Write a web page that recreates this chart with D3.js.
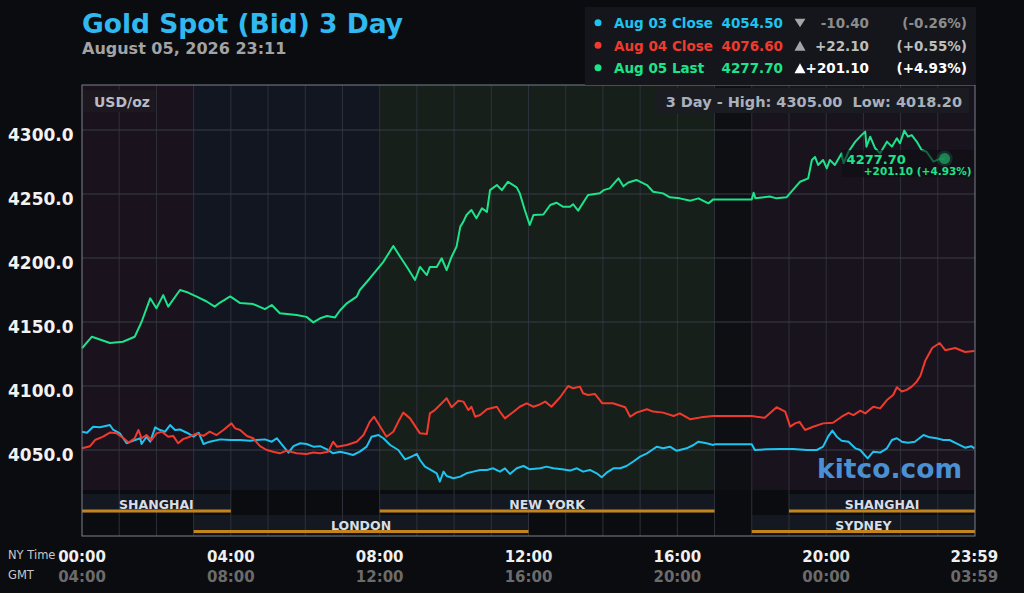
<!DOCTYPE html>
<html>
<head>
<meta charset="utf-8">
<script src="https://cdn.jsdelivr.net/npm/d3@7"></script>
<style>
html, body { margin: 0; padding: 0; background: #0b0c0f; }
svg { display: block; font-family: "DejaVu Sans", sans-serif; font-weight: bold; }
</style>
</head>
<body>
<svg id="chart" width="1024" height="593"></svg>
<script>
// Aug 03 (blue) – NY time / bid price
const aug03Times = ["00:00","00:08","00:18","00:29","00:45","00:50","01:01","01:12","01:23","01:34","01:36","01:44","01:50","01:58","02:06","02:14","02:22","02:30","02:38","02:49","03:00","03:08","03:16","03:26","03:43","03:59","04:15","04:31","04:42","04:55","05:06","05:14","05:25","05:33","05:41","05:52","06:02","06:13","06:24","06:35","06:45","06:56","07:07","07:17","07:28","07:39","07:47","07:58","08:06","08:17","08:30","08:41","08:49","09:00","09:05","09:13","09:21","09:32","09:37","09:43","09:48","09:59","10:10","10:20","10:31","10:42","10:53","11:03","11:14","11:22","11:30","11:41","11:52","12:02","12:19","12:29","12:40","12:54","13:07","13:18","13:28","13:39","13:50","13:58","14:06","14:17","14:28","14:38","14:49","15:00","15:11","15:19","15:27","15:37","15:48","15:59","16:15","16:26","16:34","16:47","16:58","17:00","18:00","18:05","18:24","18:45","19:07","19:29","19:45","19:55","20:03","20:10","20:17","20:25","20:36","20:47","20:55","21:02","21:07","21:16","21:27","21:38","21:46","21:54","22:02","22:12","22:23","22:37","22:47","22:58","23:09","23:19","23:30","23:44","23:54","23:59"];
const aug03Prices = [4064.3,4063.5,4068.2,4067.7,4069.5,4066.0,4063.0,4055.3,4057.3,4059.2,4054.7,4060.4,4056.5,4067.7,4065.6,4064.3,4069.5,4065.6,4066.0,4063.5,4060.4,4063.5,4054.7,4056.5,4058.3,4057.8,4057.8,4057.3,4057.8,4058.3,4056.5,4059.2,4052.6,4047.9,4053.0,4055.3,4054.7,4052.6,4053.0,4050.5,4047.4,4048.7,4047.4,4046.1,4048.7,4052.6,4060.4,4061.7,4059.2,4053.9,4050.0,4042.7,4044.3,4046.9,4042.2,4037.0,4034.9,4031.8,4025.3,4033.1,4029.7,4027.9,4029.2,4031.8,4033.1,4034.4,4034.4,4035.7,4033.1,4035.7,4031.3,4035.7,4037.5,4034.9,4035.7,4037.0,4035.7,4034.9,4033.9,4035.7,4033.1,4034.4,4031.8,4028.7,4032.3,4035.7,4035.7,4037.5,4041.0,4044.8,4047.4,4050.0,4052.6,4051.3,4052.6,4049.4,4051.3,4053.9,4056.5,4055.2,4053.9,4054.5,4054.5,4050.0,4050.5,4050.8,4050.8,4050.0,4050.0,4052.6,4060.4,4065.1,4060.4,4057.3,4056.5,4051.3,4050.0,4046.1,4043.5,4048.7,4048.0,4051.3,4057.8,4059.2,4056.5,4055.7,4056.5,4061.7,4059.9,4059.2,4057.8,4057.8,4055.2,4051.8,4053.0,4051.3];

// Aug 04 (red)
const aug04Times = ["00:00","00:13","00:21","00:34","00:45","00:56","01:07","01:15","01:25","01:31","01:36","01:44","01:52","02:00","02:09","02:19","02:27","02:35","02:43","02:54","03:05","03:16","03:26","03:37","03:48","04:01","04:07","04:15","04:26","04:36","04:47","04:58","05:08","05:19","05:30","05:46","06:02","06:13","06:24","06:37","06:45","06:51","07:07","07:23","07:34","07:44","07:51","08:01","08:11","08:22","08:30","08:38","08:49","09:05","09:16","09:21","09:29","09:40","09:48","09:56","10:07","10:15","10:23","10:28","10:34","10:42","10:53","11:09","11:14","11:22","11:36","11:46","11:57","12:08","12:16","12:27","12:37","12:51","13:04","13:12","13:23","13:28","13:36","13:47","13:55","13:59","14:16","14:36","14:44","14:54","15:11","15:21","15:37","15:54","16:04","16:21","16:38","16:58","17:00","18:00","18:08","18:21","18:40","18:54","19:02","19:10","19:17","19:26","19:39","19:55","20:11","20:25","20:36","20:44","20:55","21:03","21:16","21:27","21:38","21:48","21:54","22:02","22:10","22:18","22:26","22:32","22:40","22:51","23:03","23:12","23:28","23:44","23:59"];
const aug04Prices = [4051.3,4053.0,4057.8,4060.4,4063.6,4063.0,4059.2,4055.8,4059.2,4065.6,4059.2,4061.7,4057.6,4063.0,4064.3,4060.4,4061.0,4055.3,4058.5,4060.4,4063.0,4061.0,4064.3,4061.7,4065.6,4070.8,4066.9,4065.6,4060.9,4059.2,4053.0,4050.0,4048.7,4047.4,4049.5,4047.4,4046.9,4048.0,4047.4,4048.7,4056.5,4052.6,4053.9,4056.5,4061.7,4072.0,4076.0,4068.2,4060.4,4064.3,4072.0,4079.2,4074.7,4063.0,4062.5,4078.6,4081.2,4086.5,4090.4,4083.4,4088.5,4087.8,4081.2,4083.8,4076.0,4077.3,4081.8,4083.8,4079.9,4074.7,4079.9,4083.8,4086.5,4083.8,4085.1,4087.8,4083.8,4091.2,4100.0,4098.2,4099.5,4094.3,4093.0,4093.8,4089.0,4086.5,4086.5,4083.4,4076.0,4079.2,4081.8,4080.0,4079.2,4076.6,4078.6,4074.0,4075.5,4076.6,4076.6,4076.6,4076.0,4075.2,4083.4,4080.0,4068.2,4070.8,4072.0,4065.6,4068.2,4070.8,4071.3,4076.0,4079.0,4077.3,4080.7,4078.6,4083.8,4082.5,4089.0,4093.0,4099.0,4095.7,4097.0,4099.5,4103.4,4108.0,4120.0,4129.7,4133.6,4128.0,4129.7,4126.6,4127.3];

// Aug 05 (green, last trade 23:11)
const aug05Times = ["00:00","00:16","00:45","01:06","01:25","01:36","01:50","02:00","02:11","02:19","02:38","02:51","03:05","03:21","03:34","03:42","03:59","04:15","04:36","04:55","05:06","05:19","05:46","06:02","06:13","06:24","06:35","06:48","06:56","07:07","07:23","07:28","07:44","08:06","08:22","08:33","08:44","08:57","09:05","09:16","09:21","09:32","09:40","09:48","09:56","10:04","10:10","10:15","10:20","10:28","10:36","10:45","10:53","10:58","11:09","11:17","11:27","11:41","11:46","11:54","12:02","12:08","12:24","12:35","12:45","12:56","13:07","13:12","13:20","13:36","13:55","14:01","14:11","14:25","14:33","14:41","14:54","15:11","15:21","15:37","15:48","16:04","16:21","16:34","16:50","16:58","17:00","18:00","18:03","18:06","18:29","18:40","18:56","19:04","19:18","19:31","19:37","19:42","19:47","19:55","20:01","20:06","20:14","20:25","20:28","20:36","20:47","20:57","21:03","21:05","21:11","21:19","21:27","21:38","21:46","21:54","21:59","22:06","22:12","22:18","22:26","22:34","22:42","22:53","23:01","23:11"];
const aug05Prices = [4129.5,4138.5,4133.6,4134.6,4138.5,4150.0,4168.5,4160.7,4171.0,4162.0,4175.0,4173.0,4169.8,4166.0,4162.0,4165.0,4170.0,4164.8,4164.0,4160.0,4163.3,4156.8,4155.5,4154.0,4149.7,4152.9,4154.7,4153.6,4159.0,4164.6,4169.8,4175.0,4184.0,4197.0,4209.4,4201.0,4193.0,4182.8,4193.0,4186.7,4193.0,4193.0,4199.8,4190.6,4201.0,4208.9,4224.5,4228.4,4233.6,4237.5,4231.0,4238.8,4236.0,4253.0,4257.0,4253.0,4259.6,4255.2,4250.5,4237.5,4225.8,4233.6,4234.0,4241.4,4243.2,4240.0,4240.0,4242.0,4237.0,4249.2,4250.5,4253.0,4254.4,4262.2,4256.0,4259.0,4261.0,4257.0,4251.8,4250.5,4247.4,4246.6,4244.8,4246.6,4242.7,4245.8,4245.8,4245.8,4251.0,4246.6,4248.0,4246.6,4247.4,4251.8,4259.6,4262.2,4276.6,4279.0,4272.7,4276.6,4270.0,4276.6,4272.7,4281.8,4274.0,4283.0,4290.9,4296.0,4298.7,4287.0,4294.8,4285.7,4281.8,4290.9,4287.0,4293.5,4289.6,4299.5,4294.8,4296.0,4291.0,4284.4,4283.0,4275.3,4277.0,4277.7];

// legend rows
const legendLabels = ["Aug 03 Close", "Aug 04 Close", "Aug 05 Last"];
const legendPrices = ["4054.50", "4076.60", "4277.70"];
const legendChanges = ["-10.40", "+22.10", "+201.10"];
const legendPcts = ["(-0.26%)", "(+0.55%)", "(+4.93%)"];
const legendDir = ["down", "up", "up"];

// axes
const priceTicks = [4050, 4100, 4150, 4200, 4250, 4300];
const nyTicks = ["00:00", "04:00", "08:00", "12:00", "16:00", "20:00", "23:59"];
const gmtTicks = ["04:00", "08:00", "12:00", "16:00", "20:00", "00:00", "03:59"];

// trading sessions (NY time)
const sessionNames = ["SHANGHAI", "NEW YORK", "SHANGHAI", "LONDON", "SYDNEY"];
const sessionStart = ["00:00", "08:00", "19:00", "03:00", "18:00"];
const sessionEnd = ["04:00", "17:00", "24:00", "12:00", "24:00"];
const sessionRow = [0, 0, 0, 1, 1];

// background shading zones
const zoneStart = ["00:00", "03:00", "08:00", "17:00", "18:00"];
const zoneEnd = ["03:00", "08:00", "17:00", "18:00", "24:00"];
const zoneFill = ["#1a121c", "#121621", "#161f19", "#0e0f12", "#19131e"];

const seriesColors = ["#1ec3ef", "#f03a2e", "#1de38a"];
const legendSubColors = ["#8c8c8c", "#bdbdbd", "#ffffff"];

const toMin = s => { const [h, m] = s.split(":").map(Number); return h * 60 + m; };

const svg = d3.select("#chart");
const plotLeft = 82, plotRight = 975, plotTop = 85, priceBottom = 490, frameBottom = 536;

const x = d3.scaleLinear().domain([0, 1440]).range([plotLeft, plotRight]);
const y = d3.scaleLinear().domain([4018.75, 4335.16]).range([priceBottom, plotTop]);

svg.append("rect").attr("width", 1024).attr("height", 593).attr("fill", "#0b0c0f");

// shaded zones
svg.selectAll(".zone").data(zoneStart).enter().append("rect")
    .attr("x", d => x(toMin(d)))
    .attr("y", plotTop)
    .attr("width", (d, i) => x(toMin(zoneEnd[i])) - x(toMin(d)))
    .attr("height", priceBottom - plotTop)
    .attr("fill", (d, i) => zoneFill[i]);

// session rows
const rowTop = [494, 515], rowH = [19, 19.5], rowLine = [511, 531.5], rowText = [509.3, 530];
svg.selectAll(".sess").data(sessionNames).enter().append("rect")
    .attr("x", (d, i) => x(toMin(sessionStart[i])))
    .attr("y", (d, i) => rowTop[sessionRow[i]])
    .attr("width", (d, i) => x(toMin(sessionEnd[i])) - x(toMin(sessionStart[i])))
    .attr("height", (d, i) => rowH[sessionRow[i]])
    .attr("fill", "#141821");

// vertical hour grid
svg.selectAll(".vgrid").data(d3.range(1, 24)).enter().append("line")
    .attr("x1", d => x(d * 60)).attr("x2", d => x(d * 60))
    .attr("y1", plotTop).attr("y2", frameBottom)
    .attr("stroke", "#2e313b").attr("stroke-width", 1);

// horizontal grid
svg.selectAll(".hgrid").data(priceTicks).enter().append("line")
    .attr("x1", plotLeft).attr("x2", plotRight)
    .attr("y1", d => y(d)).attr("y2", d => y(d))
    .attr("stroke", "#393c47").attr("stroke-width", 1);

// orange session bars + labels
svg.selectAll(".sessLine").data(sessionNames).enter().append("line")
    .attr("x1", (d, i) => x(toMin(sessionStart[i])))
    .attr("x2", (d, i) => x(toMin(sessionEnd[i])))
    .attr("y1", (d, i) => rowLine[sessionRow[i]])
    .attr("y2", (d, i) => rowLine[sessionRow[i]])
    .attr("stroke", "#c4841c").attr("stroke-width", 3);

svg.selectAll(".sessLabel").data(sessionNames).enter().append("text")
    .attr("x", (d, i) => (x(toMin(sessionStart[i])) + x(toMin(sessionEnd[i]))) / 2)
    .attr("y", (d, i) => rowText[sessionRow[i]])
    .attr("text-anchor", "middle")
    .attr("font-size", "12.5px")
    .attr("fill", "#d9dde5")
    .text(d => d);

// watermark
svg.append("text")
    .attr("x", 962).attr("y", 478)
    .attr("text-anchor", "end")
    .attr("font-size", "26.5px")
    .attr("fill", "#4a90d3")
    .text("kitco.com");

// unit box
svg.append("rect").attr("x", 83).attr("y", 90).attr("width", 72).attr("height", 22).attr("fill", "#1d1820");
svg.append("text").attr("x", 94).attr("y", 106.5).attr("font-size", "14px").attr("fill", "#b9bcc4").text("USD/oz");

// high / low box
svg.append("rect").attr("x", 656).attr("y", 88).attr("width", 313).attr("height", 25).attr("fill", "#1b1c22");
svg.append("text").attr("x", 962).attr("y", 107).attr("text-anchor", "end")
    .attr("font-size", "14.5px").attr("fill", "#a9b0bd")
    .style("white-space", "pre")
    .text("3 Day - High: 4305.00  Low: 4018.20");

// price lines
const line = d3.line().x(d => x(d[0])).y(d => y(d[1]));
const series = [
    [aug03Times, aug03Prices],
    [aug04Times, aug04Prices],
    [aug05Times, aug05Prices]
].map(([t, p]) => t.map((s, i) => [toMin(s), p[i]]));

series.forEach((pts, i) => {
    svg.append("path")
        .datum(pts)
        .attr("d", line)
        .attr("fill", "none")
        .attr("stroke", seriesColors[i])
        .attr("stroke-width", 2)
        .attr("stroke-linejoin", "round");
});

// last-price marker
const last = series[2][series[2].length - 1];
const ex = x(last[0]), ey = y(last[1]);
svg.append("rect")
    .attr("x", ex - 103).attr("y", ey - 8.5)
    .attr("width", plotRight - (ex - 103)).attr("height", 27)
    .attr("fill", "#0e0e12").attr("opacity", 0.6);
svg.append("circle").attr("cx", ex).attr("cy", ey).attr("r", 8).attr("fill", seriesColors[2]).attr("opacity", 0.15);
svg.append("circle").attr("cx", ex).attr("cy", ey).attr("r", 5.5).attr("fill", "#1f9a5c").attr("opacity", 0.8);
svg.append("text").attr("x", ex - 98).attr("y", ey + 5.6)
    .attr("font-size", "13px").attr("fill", seriesColors[2])
    .text(d3.format(".2f")(last[1]));
svg.append("text").attr("x", ex + 27).attr("y", ey + 16.6)
    .attr("text-anchor", "end")
    .attr("font-size", "10.5px").attr("fill", seriesColors[2])
    .text(legendChanges[2] + " " + legendPcts[2]);

// frame
svg.append("rect")
    .attr("x", plotLeft).attr("y", plotTop)
    .attr("width", plotRight - plotLeft).attr("height", frameBottom - plotTop)
    .attr("fill", "none").attr("stroke", "#7b808d").attr("stroke-width", 1);

// y labels
svg.selectAll(".ylab").data(priceTicks).enter().append("text")
    .attr("x", 8).attr("y", d => y(d) + 10.5)
    .attr("font-size", "17px").attr("fill", "#f2f2f2")
    .text(d => d3.format(".1f")(d));

// x labels
svg.selectAll(".nylab").data(nyTicks).enter().append("text")
    .attr("x", d => x(toMin(d)))
    .attr("y", 562)
    .attr("text-anchor", "middle")
    .attr("font-size", "15px").attr("fill", "#f0f0f0")
    .text(d => d);
svg.selectAll(".gmtlab").data(gmtTicks).enter().append("text")
    .attr("x", (d, i) => x(toMin(nyTicks[i])))
    .attr("y", 582)
    .attr("text-anchor", "middle")
    .attr("font-size", "15px").attr("fill", "#6b6b6b")
    .text(d => d);
svg.append("text").attr("x", 8).attr("y", 559).attr("font-size", "11.5px")
    .attr("font-weight", "normal").attr("fill", "#c8c8c8").text("NY Time");
svg.append("text").attr("x", 8).attr("y", 579).attr("font-size", "11.5px")
    .attr("font-weight", "normal").attr("fill", "#c8c8c8").text("GMT");

// title
svg.append("text").attr("x", 82).attr("y", 33)
    .attr("font-size", "26.5px").attr("fill", "#30b8f0")
    .text("Gold Spot (Bid) 3 Day");
svg.append("text").attr("x", 82).attr("y", 54)
    .attr("font-size", "16px").attr("fill", "#a3a3a3")
    .text("August 05, 2026 23:11");

// legend
svg.append("rect").attr("x", 585).attr("y", 7).attr("width", 391).attr("height", 78).attr("fill", "#14161b");
const rowY = [28.3, 50.7, 73.3];
legendLabels.forEach((lab, i) => {
    const g = svg.append("g");
    g.append("circle").attr("cx", 598).attr("cy", rowY[i] - 5.5).attr("r", 3.5).attr("fill", seriesColors[i]);
    g.append("text").attr("x", 614).attr("y", rowY[i]).attr("font-size", "13.5px")
        .attr("fill", seriesColors[i]).text(lab);
    g.append("text").attr("x", 783).attr("y", rowY[i]).attr("font-size", "13.5px")
        .attr("text-anchor", "end").attr("fill", seriesColors[i]).text(legendPrices[i]);
    const tri = legendDir[i] === "down"
        ? [[794.5, rowY[i] - 9.5], [805.5, rowY[i] - 9.5], [800, rowY[i] - 1]]
        : [[794.5, rowY[i]], [805.5, rowY[i]], [800, rowY[i] - 10]];
    g.append("path").attr("d", d3.line()(tri) + "Z")
        .attr("fill", i === 2 ? "#ffffff" : "#a5a5a5");
    g.append("text").attr("x", 869).attr("y", rowY[i]).attr("font-size", "13.5px")
        .attr("text-anchor", "end").attr("fill", legendSubColors[i]).text(legendChanges[i]);
    g.append("text").attr("x", 967).attr("y", rowY[i]).attr("font-size", "13.5px")
        .attr("text-anchor", "end").attr("fill", legendSubColors[i]).text(legendPcts[i]);
});
</script>
</body>
</html>
